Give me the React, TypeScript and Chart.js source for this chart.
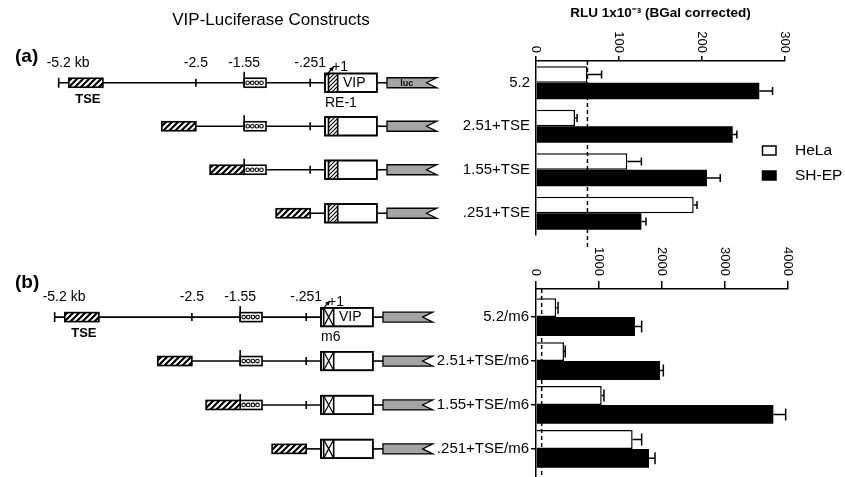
import React, { useEffect, useRef } from "react";
import { Chart, registerables } from "chart.js";

Chart.register(...registerables);
Chart.defaults.color = "#000";

const FONT = "'Liberation Sans', Arial, Helvetica, sans-serif";

// ---------------- data ----------------
const constructsA = ["5.2", "2.51+TSE", "1.55+TSE", ".251+TSE"];
const constructsB = ["5.2/m6", "2.51+TSE/m6", "1.55+TSE/m6", ".251+TSE/m6"];
const seriesNames = ["HeLa", "SH-EP"];
const helaA = [62, 47, 110, 190];
const helaErrA = [17, 2.5, 17, 4];
const shepA = [269, 237, 206, 127];
const shepErrA = [16, 5, 16, 5.5];
const helaB = [320, 444, 1043, 1534];
const helaErrB = [30, 20, 36, 143];
const shepB = [1571, 1968, 3767, 1794];
const shepErrB = [106, 53, 196, 95];
const referenceA = 62;
const referenceB = 90;
const axisTicksA = [0, 100, 200, 300];
const axisTicksB = [0, 1000, 2000, 3000, 4000];
const axisTitle = "RLU 1x10\u207B\u00B3 (BGal corrected)";
const mainTitle = "VIP-Luciferase Constructs";

// construct map (kb)
const mapMarksKb = [-5.2, -2.5, -1.55, -0.251];
const mapMarkLabels = ["-5.2 kb", "-2.5", "-1.55", "-.251"];
const fragmentStartKb = [-5.2, -2.5, -1.55, -0.251];
const tseFused = [false, true, true, true];
const tseNativeKb = [-5.0, -4.33];
const tseLengthKb = 0.67;
const elementKb = [-1.55, -1.12];
const vipKb = [0.04, 1.06];
const vipSectionEndKb = 0.29;
const startSiteKb = 0.1;
const lucKb = [1.26, 2.24];
const lucNotchKb = 2.04;

// ---------------- helpers ----------------
function stripePattern(ctx: CanvasRenderingContext2D, size: number, lw: number) {
  const c = document.createElement("canvas");
  c.width = size;
  c.height = size;
  const g = c.getContext("2d")!;
  g.fillStyle = "#fff";
  g.fillRect(0, 0, size, size);
  g.strokeStyle = "#000";
  g.lineWidth = lw;
  g.beginPath();
  g.moveTo(-1, size + 1);
  g.lineTo(size + 1, -1);
  g.moveTo(-1, 1);
  g.lineTo(1, -1);
  g.moveTo(size - 1, size + 1);
  g.lineTo(size + 1, size - 1);
  g.stroke();
  return ctx.createPattern(c, "repeat")!;
}

function diagramPlugin(panel: "a" | "b") {
  const isA = panel === "a";
  return {
    id: "constructMap",
    afterDatasetsDraw(chart: any) {
      const ctx: CanvasRenderingContext2D = chart.ctx;
      const xs = chart.scales.x;
      const ys = chart.scales.y;
      const X = (v: number) => xs.getPixelForValue(v);
      const Y = (v: number) => ys.getPixelForValue(v);
      const hatch = stripePattern(ctx, 6, 2.2);
      const fine = stripePattern(ctx, 4, 1.1);
      const vline = (x: number, y0: number, y1: number) => {
        ctx.beginPath();
        ctx.moveTo(x, y0);
        ctx.lineTo(x, y1);
        ctx.stroke();
      };
      const box = (x: number, y: number, w: number, h: number, fill: any) => {
        ctx.fillStyle = fill;
        ctx.fillRect(x, y, w, h);
        ctx.strokeRect(x, y, w, h);
      };
      ctx.save();
      ctx.strokeStyle = "#000";
      ctx.lineWidth = 1.6;

      // titles
      ctx.fillStyle = "#000";
      ctx.textBaseline = "middle";
      if (isA) {
        ctx.font = `17px ${FONT}`;
        ctx.textAlign = "center";
        ctx.fillText(mainTitle, 271, 20);
      }
      ctx.font = `bold 19px ${FONT}`;
      ctx.textAlign = "left";
      ctx.fillText(isA ? "(a)" : "(b)", isA ? 15 : 19, isA ? 57 : 43);

      // map labels above the first row
      const y0 = Y(0);
      ctx.font = `14px ${FONT}`;
      mapMarksKb.forEach((m, k) => {
        ctx.textAlign = k === 0 ? "left" : "center";
        ctx.fillStyle = "#000";
        ctx.fillText(mapMarkLabels[k], k === 0 ? X(m) - 12 : X(m), y0 - 20);
      });

      fragmentStartKb.forEach((start, r) => {
        const cy = Y(r);
        ctx.lineWidth = 1.6;
        ctx.strokeStyle = "#000";
        // end tick / internal ticks
        mapMarksKb.forEach((m, k) => {
          if (k === 0) {
            if (!tseFused[r] && start === m) vline(X(m), cy - 5, cy + 5);
            return;
          }
          if (m > start && m !== elementKb[0]) vline(X(m), cy - 4, cy + 4);
        });
        // dotted element
        if (start <= elementKb[0]) {
          const e0 = X(elementKb[0]);
          const e1 = X(elementKb[1]);
          box(e0, cy - 4.5, e1 - e0, 9, "#fff");
          ctx.lineWidth = 1.1;
          for (let cx = e0 + 3.5; cx < e1 - 2; cx += 4.6) {
            ctx.beginPath();
            ctx.arc(cx, cy, 1.8, 0, Math.PI * 2);
            ctx.stroke();
          }
          ctx.lineWidth = 1.6;
          vline(e0, cy - 11, cy + 4.5);
        }
        // TSE box
        const t0 = tseFused[r] ? start - tseLengthKb : tseNativeKb[0];
        const t1 = tseFused[r] ? start : tseNativeKb[1];
        box(X(t0), cy - 4.5, X(t1) - X(t0), 9, hatch);
        if (r === 0) {
          ctx.fillStyle = "#000";
          ctx.font = `bold 13px ${FONT}`;
          ctx.textAlign = "center";
          ctx.fillText("TSE", (X(t0) + X(t1)) / 2 + 2, cy + 16.5);
        }
        // VIP box
        const v0 = X(vipKb[0]);
        const v1 = X(vipKb[1]);
        const vs = X(vipSectionEndKb);
        const h = 18.5;
        const top = cy - h / 2;
        box(v0, top, v1 - v0, h, "#fff");
        if (isA) {
          ctx.fillStyle = fine;
          ctx.fillRect(v0 + 3.5, top, vs - v0 - 3.5, h);
          vline(v0 + 3.5, top, top + h);
          vline(vs, top, top + h);
        } else {
          const a0 = v0 + 2.7;
          vline(a0, top, top + h);
          vline(vs, top, top + h);
          ctx.lineWidth = 1.2;
          ctx.beginPath();
          ctx.moveTo(a0, top);
          ctx.lineTo(vs, top + h);
          ctx.moveTo(vs, top);
          ctx.lineTo(a0, top + h);
          ctx.stroke();
          ctx.lineWidth = 1.6;
        }
        ctx.strokeRect(v0, top, v1 - v0, h);
        if (r === 0) {
          ctx.fillStyle = "#000";
          ctx.font = `14px ${FONT}`;
          ctx.textAlign = "center";
          ctx.fillText("VIP", (vs + v1) / 2 - 3, cy);
          // +1 start site arrow
          const sx = X(startSiteKb) - 2;
          ctx.lineWidth = 1.2;
          ctx.beginPath();
          ctx.moveTo(sx, top + 2);
          ctx.lineTo(sx + 7, top - 6);
          ctx.stroke();
          ctx.beginPath();
          ctx.moveTo(sx + 8, top - 7);
          ctx.lineTo(sx + 3, top - 5);
          ctx.lineTo(sx + 6.5, top - 2);
          ctx.closePath();
          ctx.fill();
          ctx.textAlign = "left";
          ctx.fillText("+1", sx + 6, top - 6);
          ctx.fillText(isA ? "RE-1" : "m6", v0, cy + 20);
          ctx.lineWidth = 1.6;
        }
        // luc reporter
        const l0 = X(lucKb[0]);
        const l1 = X(lucKb[1]);
        const ln = X(lucNotchKb);
        ctx.beginPath();
        ctx.moveTo(l0, cy - 5);
        ctx.lineTo(l1, cy - 5);
        ctx.lineTo(ln, cy);
        ctx.lineTo(l1, cy + 5);
        ctx.lineTo(l0, cy + 5);
        ctx.closePath();
        ctx.fillStyle = "#a4a4a4";
        ctx.fill();
        ctx.lineWidth = 1.3;
        ctx.stroke();
        if (isA && r === 0) {
          ctx.fillStyle = "#111";
          ctx.font = `bold 9px ${FONT}`;
          ctx.textAlign = "center";
          ctx.fillText("luc", (l0 + ln) / 2, cy + 0.5);
        }
      });
      ctx.restore();
    },
  };
}

function diagramConfig(panel: "a" | "b"): any {
  const isA = panel === "a";
  const datasets: any[] = [];
  fragmentStartKb.forEach((s, r) => {
    datasets.push({
      data: [
        { x: s, y: r },
        { x: vipKb[0], y: r },
      ],
      showLine: true,
      borderColor: "#000",
      borderWidth: 1.6,
      pointRadius: 0,
    });
    datasets.push({
      data: [
        { x: vipKb[1], y: r },
        { x: lucKb[0], y: r },
      ],
      showLine: true,
      borderColor: "#000",
      borderWidth: 1.6,
      pointRadius: 0,
    });
  });
  return {
    type: "scatter",
    data: { datasets },
    options: {
      responsive: false,
      animation: false,
      events: [],
      layout: { padding: { left: 18, right: 10, top: isA ? 61 : 49, bottom: 20 } },
      scales: {
        x: { type: "linear", min: -6, max: 2.5, display: false },
        y: { type: "linear", min: isA ? -0.5 : -0.64, max: isA ? 3.5 : 3.64, reverse: true, display: false },
      },
      plugins: { legend: { display: false }, tooltip: { enabled: false } },
    },
    plugins: [diagramPlugin(panel)],
  };
}

function errorBarPlugin(errs: number[][], cap: number) {
  return {
    id: "errorBars",
    afterDatasetsDraw(chart: any) {
      const ctx: CanvasRenderingContext2D = chart.ctx;
      const xs = chart.scales.x;
      ctx.save();
      ctx.strokeStyle = "#000";
      ctx.lineWidth = 1.5;
      chart.data.datasets.forEach((ds: any, di: number) => {
        const meta = chart.getDatasetMeta(di);
        meta.data.forEach((bar: any, i: number) => {
          const v = ds.data[i].x;
          const e = errs[di][i];
          const x1 = xs.getPixelForValue(v);
          const x2 = xs.getPixelForValue(v + e);
          ctx.beginPath();
          ctx.moveTo(x1, bar.y);
          ctx.lineTo(x2, bar.y);
          ctx.moveTo(x2, bar.y - cap);
          ctx.lineTo(x2, bar.y + cap);
          ctx.stroke();
        });
      });
      ctx.restore();
    },
  };
}

function referencePlugin(value: number, extend: number) {
  return {
    id: "referenceLine",
    afterDatasetsDraw(chart: any) {
      const ctx: CanvasRenderingContext2D = chart.ctx;
      const x = chart.scales.x.getPixelForValue(value);
      const { top, bottom } = chart.chartArea;
      ctx.save();
      ctx.strokeStyle = "#000";
      ctx.lineWidth = 1.5;
      ctx.setLineDash([4, 3]);
      ctx.beginPath();
      ctx.moveTo(x, top);
      ctx.lineTo(x, bottom + extend);
      ctx.stroke();
      ctx.restore();
    },
  };
}

function rotatedTicksPlugin(gap: number) {
  return {
    id: "rotatedTicks",
    afterDraw(chart: any) {
      const ctx: CanvasRenderingContext2D = chart.ctx;
      const xs = chart.scales.x;
      const tl = xs.options.grid.tickLength;
      ctx.save();
      ctx.fillStyle = "#000";
      ctx.font = `13px ${FONT}`;
      ctx.textAlign = "right";
      ctx.textBaseline = "middle";
      xs.ticks.forEach((t: any) => {
        ctx.save();
        ctx.translate(xs.getPixelForValue(t.value), chart.chartArea.top - tl - gap);
        ctx.rotate(Math.PI / 2);
        ctx.fillText(String(t.value), 0, 0);
        ctx.restore();
      });
      ctx.restore();
    },
  };
}

const legendPlugin = {
  id: "boxLegend",
  afterDraw(chart: any) {
    const ctx: CanvasRenderingContext2D = chart.ctx;
    ctx.save();
    ctx.font = `15.5px ${FONT}`;
    ctx.textAlign = "left";
    ctx.textBaseline = "middle";
    chart.data.datasets.forEach((ds: any, i: number) => {
      const y = 146 + i * 25;
      ctx.fillStyle = ds.backgroundColor;
      ctx.fillRect(342.5, y, 13.5, 9);
      ctx.strokeStyle = "#000";
      ctx.lineWidth = 1.5;
      ctx.strokeRect(342.5, y, 13.5, 9);
      ctx.fillStyle = "#000";
      ctx.fillText(ds.label, 375, y + 4.5);
    });
    ctx.restore();
  },
};

function barConfig(p: {
  labels: string[];
  hela: number[];
  helaErr: number[];
  shep: number[];
  shepErr: number[];
  ticks: number[];
  ref: number;
  refExtend: number;
  catPct: number;
  yMin: number;
  yMax: number;
  axisHeight: number;
  padRight: number;
  tickLen: number;
  tickGap: number;
  yTickLen: number;
  yPad: number;
  title: string | null;
  legend: boolean;
  cap: number;
}): any {
  const plugins: any[] = [
    referencePlugin(p.ref, p.refExtend),
    errorBarPlugin([p.helaErr, p.shepErr], p.cap),
    rotatedTicksPlugin(p.tickGap),
  ];
  if (p.legend) plugins.push(legendPlugin);
  return {
    type: "bar",
    data: {
      datasets: [
        {
          label: seriesNames[0],
          data: p.hela.map((v, i) => ({ x: v, y: i })),
          backgroundColor: "#fff",
          borderColor: "#000",
          borderWidth: 1.5,
        },
        {
          label: seriesNames[1],
          data: p.shep.map((v, i) => ({ x: v, y: i })),
          backgroundColor: "#000",
          borderColor: "#000",
          borderWidth: 0,
        },
      ],
    },
    options: {
      indexAxis: "y",
      responsive: false,
      animation: false,
      events: [],
      layout: { padding: { left: 0, right: p.padRight, top: 0, bottom: 20 } },
      datasets: { bar: { categoryPercentage: p.catPct, barPercentage: 1 } },
      scales: {
        x: {
          type: "linear",
          position: "top",
          offset: false,
          min: p.ticks[0],
          max: p.ticks[p.ticks.length - 1],
          afterBuildTicks: (s: any) => {
            s.ticks = p.ticks.map((v) => ({ value: v }));
          },
          afterFit: (s: any) => {
            s.height = p.axisHeight;
          },
          ticks: { display: false },
          grid: { offset: false, drawOnChartArea: false, drawTicks: true, tickLength: p.tickLen, color: "#000", lineWidth: 1.5 },
          border: { display: true, color: "#000", width: 1.5 },
          title: p.title
            ? {
                display: true,
                text: p.title,
                color: "#000",
                font: { family: FONT, size: 13.5, weight: "bold" },
                padding: { top: 5, bottom: 0 },
              }
            : { display: false },
        },
        y: {
          type: "linear",
          offset: false,
          min: p.yMin,
          max: p.yMax,
          reverse: true,
          afterBuildTicks: (s: any) => {
            s.ticks = p.labels.map((_, i) => ({ value: i }));
          },
          afterFit: (s: any) => {
            s.width = 116;
          },
          ticks: {
            callback: (v: number) => p.labels[v],
            font: { family: FONT, size: 15 },
            color: "#000",
            padding: p.yPad,
          },
          grid: {
            offset: false,
            display: p.yTickLen > 0,
            drawOnChartArea: false,
            drawTicks: p.yTickLen > 0,
            tickLength: p.yTickLen,
            color: "#000",
            lineWidth: 1.5,
          },
          border: { display: true, color: "#000", width: 1.5 },
        },
      },
      plugins: { legend: { display: false }, tooltip: { enabled: false } },
    },
    plugins,
  };
}

function ChartCanvas(props: { left: number; top: number; width: number; height: number; make: () => any }) {
  const ref = useRef<HTMLCanvasElement>(null);
  useEffect(() => {
    const chart = new Chart(ref.current!, props.make());
    return () => chart.destroy();
  }, []);
  return (
    <canvas
      ref={ref}
      width={props.width}
      height={props.height}
      style={{ position: "absolute", left: props.left, top: props.top, width: props.width, height: props.height }}
    />
  );
}

export default function App() {
  return (
    <div
      style={{
        position: "fixed",
        left: 0,
        top: 0,
        width: 845,
        height: 477,
        overflow: "hidden",
        background: "#fff",
      }}
    >
      <ChartCanvas left={0} top={0} width={460} height={255} make={() => diagramConfig("a")} />
      <ChartCanvas left={-4} top={240} width={460} height={257} make={() => diagramConfig("b")} />
      <ChartCanvas
        left={420}
        top={0}
        width={425}
        height={255}
        make={() =>
          barConfig({
            labels: constructsA,
            hela: helaA,
            helaErr: helaErrA,
            shep: shepA,
            shepErr: shepErrA,
            ticks: axisTicksA,
            ref: referenceA,
            refExtend: 12,
            catPct: 0.76,
            yMin: -0.5,
            yMax: 3.5,
            axisHeight: 61,
            padRight: 60,
            tickLen: 5,
            tickGap: 3,
            yTickLen: 0,
            yPad: 6,
            title: axisTitle,
            legend: true,
            cap: 4,
          })
        }
      />
      <ChartCanvas
        left={420}
        top={240}
        width={425}
        height={257}
        make={() =>
          barConfig({
            labels: constructsB,
            hela: helaB,
            helaErr: helaErrB,
            shep: shepB,
            shepErr: shepErrB,
            ticks: axisTicksB,
            ref: referenceB,
            refExtend: 0,
            catPct: 0.86,
            yMin: -0.64,
            yMax: 3.64,
            axisHeight: 49,
            padRight: 57,
            tickLen: 8,
            tickGap: 5,
            yTickLen: 5,
            yPad: 2,
            title: null,
            legend: false,
            cap: 6,
          })
        }
      />
    </div>
  );
}
